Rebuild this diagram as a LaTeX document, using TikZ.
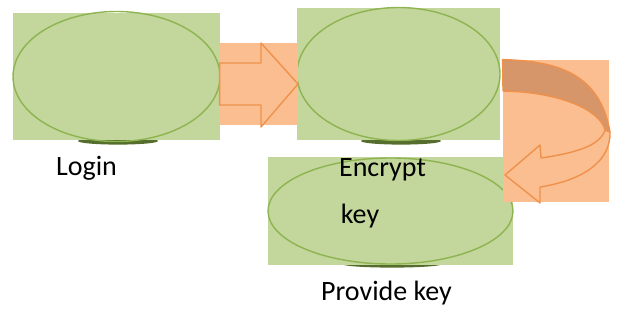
\documentclass[tikz,border=0pt]{standalone}
\usepackage{fontspec}
\setmainfont{Carlito}
\usetikzlibrary{calc, shapes.geometric}
\definecolor{boxgreen}{RGB}{195,214,155}
\definecolor{ringgreen}{RGB}{141,180,80}
\definecolor{shadegreen}{RGB}{85,110,45}
\definecolor{padfill}{RGB}{250,190,145}
\definecolor{arrowline}{RGB}{240,145,75}
\definecolor{bandfill}{RGB}{215,150,105}

\tikzset{
  greenbox/.style={rectangle, fill=boxgreen, inner sep=0},
  ring/.style={ellipse, draw=ringgreen, line width=0.7pt, inner sep=0},
  pad/.style={rectangle, fill=padfill, inner sep=0},
  blockarrow/.style={draw=arrowline, line width=0.7pt, line join=round},
  lbl/.style={anchor=base, inner sep=0, font=\fontsize{14}{16}\selectfont}
}

\begin{document}
\begin{tikzpicture}[x=0.5pt, y=-0.5pt]
    \useasboundingbox (0,0) rectangle (619,327);

    % shadows under the ellipses
    \fill[shadegreen] (118,141) ellipse [x radius=20pt, y radius=1.8pt];
    \fill[shadegreen] (401,141) ellipse [x radius=20pt, y radius=1.8pt];
    \fill[shadegreen] (392,264) ellipse [x radius=25pt, y radius=1.8pt];

    % boxes
    \node[greenbox, minimum width=103.5pt, minimum height=63.5pt] at (116.5,76.5) (login) {};
    \node[ring, minimum width=103.5pt, minimum height=65pt] at (login) (loginring) {};
    \node[greenbox, minimum width=101.5pt, minimum height=66pt] at (398.5,74) (encrypt) {};
    \node[ring, minimum width=101.5pt, minimum height=66.5pt] at (encrypt) (encryptring) {};
    \node[greenbox, minimum width=122.5pt, minimum height=54pt] at (390.5,211) (provide) {};
    \node[ring, minimum width=122.5pt, minimum height=53pt] at (provide) (providering) {};

    % straight arrow
    \node[pad, minimum width=39pt, minimum height=41pt] at (259,84) (padA) {};
    \draw[blockarrow, fill=padfill] (padA.west |- 0,63) -- (261,63) -- (261,43) -- (298,84)
        -- (261,127) -- (261,105) -- (padA.west |- 0,105) -- cycle;

    % curved arrow
    \node[pad, minimum width=53pt, minimum height=71pt] at (556,131) (padB) {};
    \draw[blockarrow, fill=bandfill] (padB.north west) .. controls (560,61) and (600,75) .. (610,132)
        -- (605,130) .. controls (600,110) and (560,92) .. (503,91) -- cycle;
    \draw[blockarrow, fill=padfill] (605,130) .. controls (600,146) and (575,153) .. (541,158)
        -- (540,145) -- (505,175) -- (540,203) -- (540,187)
        .. controls (585,180) and (611,160) .. (610,132) -- cycle;

    % texts
    \node[lbl] at (86.5,175) (logintext) {Login};
    \node[lbl] at (382.5,176) (encrypttext) {Encrypt};
    \node[lbl] at (360,223) (keytext) {key};
    \node[lbl] at (386.5,300) (providetext) {Provide key};
\end{tikzpicture}
\end{document}
